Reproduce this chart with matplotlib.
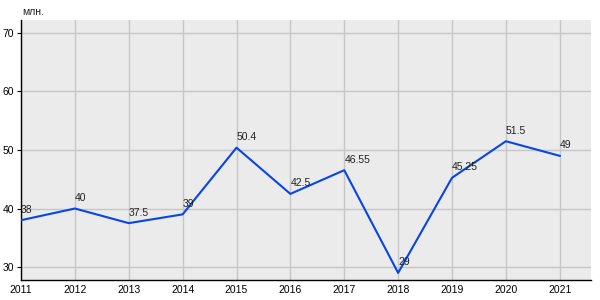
import matplotlib.pyplot as plt

plt.rcParams['font.family'] = ['Liberation Sans', 'DejaVu Sans']

years = [2011, 2012, 2013, 2014, 2015, 2016, 2017, 2018, 2019, 2020, 2021]
values = [38, 40, 37.5, 39, 50.4, 42.5, 46.55, 29, 45.25, 51.5, 49]
labels = ['38', '40', '37.5', '39', '50.4', '42.5', '46.55', '29', '45.25', '51.5', '49']
yticks = [30, 40, 50, 60, 70]

fig = plt.figure(figsize=(6, 3), dpi=100)
ax = fig.add_axes([0.035, 0.067, 0.95, 0.866])
ax.set_facecolor('#EBEBEB')

ax.plot(years, values, color='#0645E8', linewidth=1.5, zorder=3)
for x, y, t in zip(years, values, labels):
    ax.annotate(t, (x, y), xytext=(0, 4), textcoords='offset points',
                ha='left', va='bottom', fontsize=7.5, color='#222222', zorder=4)

ax.set_xlim(2011, 2021.58)
ax.set_ylim(27.8, 72.2)
ax.set_xticks(years)
ax.set_yticks(yticks)
ax.tick_params(axis='x', length=0, labelsize=7.5, pad=4)
ax.tick_params(axis='y', length=3, labelsize=7.5, pad=2)
ax.grid(True, color='#C6C6C6', linewidth=1)
ax.set_axisbelow(True)
for s in ['top', 'right']:
    ax.spines[s].set_visible(False)
for s in ['left', 'bottom']:
    ax.spines[s].set_color('black')
    ax.spines[s].set_linewidth(1)

fig.text(0.037, 0.943, 'млн.', fontsize=7.5, ha='left', va='bottom', color='#222222')

fig.savefig('out.png', dpi=100)
